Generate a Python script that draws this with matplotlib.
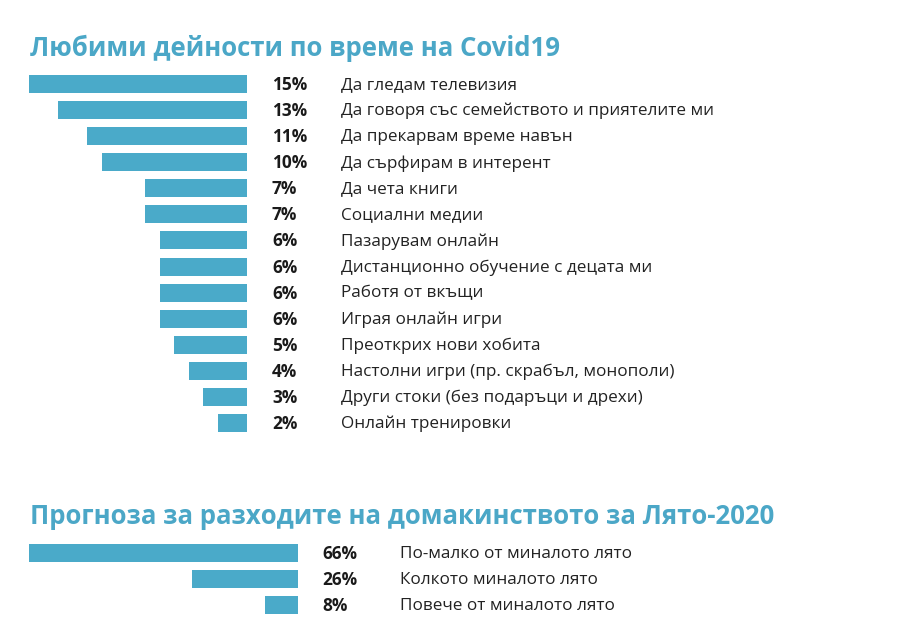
import matplotlib
matplotlib.use("Agg")
import matplotlib.pyplot as plt
from matplotlib.transforms import offset_copy

plt.rcParams['font.family'] = ['Open Sans', 'DejaVu Sans']

# ── data ─────────────────────────────────────────────────────────────────────

title_top = "Любими дейности по време на Covid19"
activities = [
    "Да гледам телевизия",
    "Да говоря със семейството и приятелите ми",
    "Да прекарвам време навън",
    "Да сърфирам в интерент",
    "Да чета книги",
    "Социални медии",
    "Пазарувам онлайн",
    "Дистанционно обучение с децата ми",
    "Работя от вкъщи",
    "Играя онлайн игри",
    "Преоткрих нови хобита",
    "Настолни игри (пр. скрабъл, монополи)",
    "Други стоки (без подаръци и дрехи)",
    "Онлайн тренировки",
]
activity_pct = [15, 13, 11, 10, 7, 7, 6, 6, 6, 6, 5, 4, 3, 2]

title_bottom = "Прогноза за разходите на домакинството за Лято-2020"
spending = [
    "По-малко от миналото лято",
    "Колкото миналото лято",
    "Повече от миналото лято",
]
spending_pct = [66, 26, 8]

# ── style ────────────────────────────────────────────────────────────────────

BAR = "#4AAAC9"
TITLE = "#4BA7C7"
W, H = 900, 632

fig = plt.figure(figsize=(W / 100, H / 100), dpi=100)
fig.patch.set_facecolor("white")


def px_axes(left, top, width, height):
    # axes placed in pixel coordinates of the figure
    return fig.add_axes([left / W, 1 - (top + height) / H, width / W, height / H])


def panel(ax, labels, values, pct_dx, lab_dx):
    n = len(values)
    ys = list(range(n))
    ax.barh(ys, [-v for v in values], height=0.69, left=0, color=BAR)
    ax.set_xlim(-max(values), 0)
    ax.set_ylim(n - 0.5, -0.5)
    ax.axis("off")
    t_pct = offset_copy(ax.transData, fig=fig, x=pct_dx, y=-1, units="dots")
    t_lab = offset_copy(ax.transData, fig=fig, x=lab_dx, y=-1, units="dots")
    for y, lab, v in zip(ys, labels, values):
        ax.text(0, y, f"{v}%", transform=t_pct, ha="left", va="center",
                fontsize=12.4, fontweight="bold", color="#1a1a1a", clip_on=False)
        ax.text(0, y, lab, transform=t_lab, ha="left", va="center",
                fontsize=12.3, color="#222222", clip_on=False)


ax1 = px_axes(29, 71, 218, 365)
panel(ax1, activities, activity_pct, 25, 94)

ax2 = px_axes(29, 540, 269, 78)
panel(ax2, spending, spending_pct, 24, 102)

fig.text(30 / W, 1 - 56 / H, title_top, fontsize=18.5, fontweight="bold",
         color=TITLE, ha="left", va="baseline")
fig.text(30 / W, 1 - 524 / H, title_bottom, fontsize=18.5, fontweight="bold",
         color=TITLE, ha="left", va="baseline")

fig.savefig("out.png", dpi=100, facecolor="white")
